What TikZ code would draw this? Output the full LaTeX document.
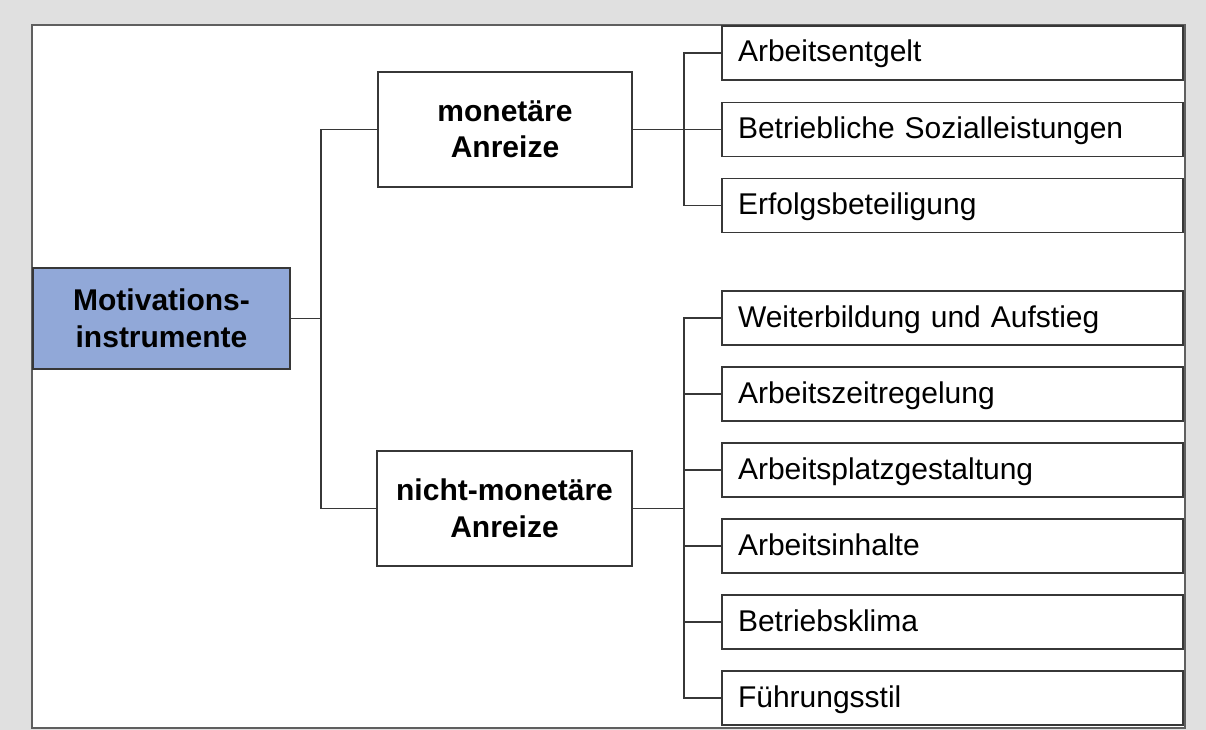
\documentclass[tikz,border=0pt]{standalone}
\usepackage{fontspec}
\setmainfont{Liberation Sans}
\definecolor{bggray}{RGB}{224,224,224}
\definecolor{rootblue}{RGB}{145,168,216}
\definecolor{linegray}{RGB}{55,55,55}
\definecolor{framegray}{RGB}{95,95,95}
\tikzset{
  box/.style={draw=linegray, line width=1.8pt, fill=white, outer sep=0pt, inner sep=0pt,
    font=\fontsize{30}{37}\selectfont},
  headbox/.style={box, font=\fontsize{30}{36.5}\selectfont\bfseries, align=center},
  leafbox/.style={box, text width=429pt, inner xsep=16pt, inner ysep=0pt,
    text height=24pt, text depth=6pt, minimum height=54pt, align=left},
  conn/.style={draw=linegray, line width=1.8pt},
}
\begin{document}
\begin{tikzpicture}[x=1pt,y=-1pt]
\useasboundingbox (0,0) rectangle (1206,730);
\fill[bggray] (0,0) rectangle (1206,730);
\draw[framegray, line width=2pt, fill=white] (32,25) rectangle (1185,728);

\node[headbox, fill=rootblue, minimum width=257pt, minimum height=101pt] (root) at (161.5,318.5) {Motivations-\\instrumente};
\node[headbox, minimum width=254pt, minimum height=115pt] (mon) at (505,129.5) {monetäre\\Anreize};
\node[headbox, minimum width=255pt, minimum height=115pt] (nm) at (504.5,508.5) {nicht-monetäre\\Anreize};

\node[leafbox] (l1) at (952.5,53) {Arbeitsentgelt};
\node[leafbox] (l2) at (952.5,129.5) {Betriebliche Sozialleistungen};
\node[leafbox] (l3) at (952.5,205.5) {Erfolgsbeteiligung};

\node[leafbox] (n1) at (952.5,318) {Weiterbildung und Aufstieg};
\node[leafbox] (n2) at (952.5,394) {Arbeitszeitregelung};
\node[leafbox] (n3) at (952.5,470) {Arbeitsplatzgestaltung};
\node[leafbox] (n4) at (952.5,546) {Arbeitsinhalte};
\node[leafbox] (n5) at (952.5,622) {Betriebsklima};
\node[leafbox] (n6) at (952.5,698) {Führungsstil};

\coordinate (j0) at (321,318.5);
\coordinate (j1) at (684,129.5);
\coordinate (j2) at (684,508.5);

\draw[conn] (root.east) -- (j0);
\draw[conn] (mon.west) -| (j0) |- (nm.west);

\draw[conn] (mon.east) -- (j1);
\draw[conn] (l1.west) -| (j1) |- (l3.west);
\draw[conn] (j1) -- (l2.west);

\draw[conn] (nm.east) -- (j2);
\draw[conn] (n1.west) -| (j2) |- (n6.west);
\foreach \n in {n2,n3,n4,n5}{
  \draw[conn] (j2 |- \n.west) -- (\n.west);
}
\end{tikzpicture}
\end{document}
